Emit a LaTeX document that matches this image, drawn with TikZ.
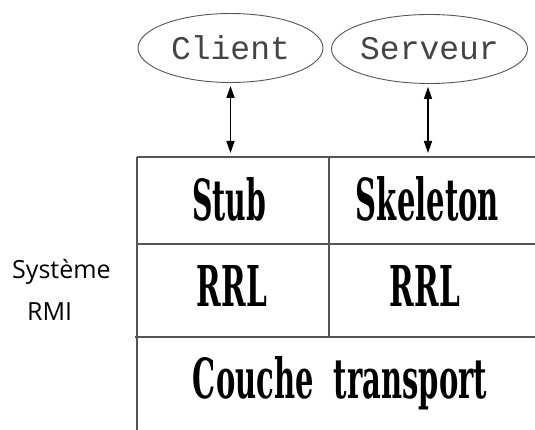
\documentclass[tikz,border=0pt]{standalone}
\usepackage{fontspec}
\usepackage{graphicx}
\usetikzlibrary{shapes.geometric,arrows.meta}
\newfontfamily\monofnt{Liberation Mono}
\newfontfamily\slabfnt{DejaVu Serif}
\newfontfamily\sansfnt{Open Sans}
\definecolor{linegray}{HTML}{555555}
\definecolor{txtgray}{HTML}{444444}
\newcommand{\slabtext}[3]{\resizebox{#1pt}{#2pt}{\slabfnt\bfseries #3}}
\begin{document}
\begin{tikzpicture}[x=1pt,y=-1pt,
  oval/.style={ellipse,draw=linegray,line width=0.9pt,minimum width=185pt,minimum height=69pt,inner sep=0pt,
    font=\monofnt\fontsize{33}{36}\selectfont,text=txtgray},
  tline/.style={draw=linegray,line width=1.5pt},
  link/.style={draw=black,line width=1.4pt,{Triangle[width=8pt,length=12pt]}-{Triangle[width=8pt,length=12pt]},shorten <=3pt,shorten >=4pt},
  cell/.style={anchor=base,inner sep=0pt,text=black},
  side/.style={anchor=base west,inner sep=0pt,font=\sansfnt\fontsize{25}{30}\selectfont,text=black}]
\useasboundingbox (0,0) rectangle (535,430);
\fill[white] (0,0) rectangle (535,430);
% ovals
\node[oval] (client) at (230.5,48) {Client};
\node[oval] (serveur) at (429.5,49) {Serveur};
% table frame
\coordinate (ttop) at (137,157);
\draw[tline] (137,157) -- (535,157);
\draw[tline] (137,157) -- (137,430);
\draw[tline] (329,157) -- (329,337);
\draw[tline] (137,244) -- (535,244);
\draw[tline] (135,337) -- (535,337);
% connectors
\draw[link] (client.south) -- (client.south |- ttop);
\draw[link] ([xshift=-1.5pt]serveur.south) -- ([xshift=-1.5pt]serveur.south |- ttop);
% cell texts
\node[cell] (stub) at (229,221) {\slabtext{74}{43}{Stub}};
\node[cell] (skel) at (427.5,221) {\slabtext{143}{44}{Skeleton}};
\node[cell] (rrla) at (232,306) {\slabtext{70}{41}{RRL}};
\node[cell] (rrlb) at (425,306) {\slabtext{70}{41}{RRL}};
\node[cell] (couche) at (340,398) {\slabtext{294}{42}{Couche\hspace{0.35em} transport}};
% side label
\node[side] (sysA) at (12,278) {Système};
\node[side] (sysB) at (27,320) {RMI};
\end{tikzpicture}
\end{document}
